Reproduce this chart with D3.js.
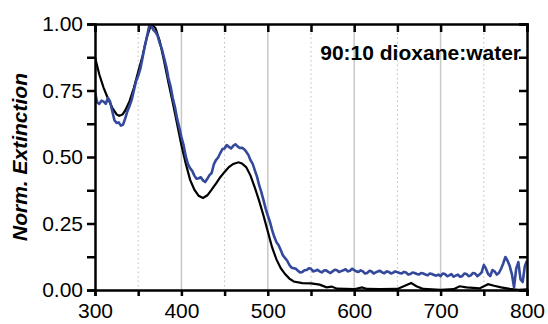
<!DOCTYPE html>
<html>
<head>
<meta charset="utf-8">
<script src="https://cdn.jsdelivr.net/npm/d3@7"></script>
<style>
  body { margin: 0; background: #fff; }
  text { font-family: "Liberation Sans", Arial, sans-serif; }
</style>
</head>
<body>
<div id="chart"></div>
<script>
// black curve (reference) - wavelength / value
const blackWl = [300, 305, 310, 315, 320, 325, 328, 332, 335, 340, 345, 350, 355, 360, 365, 370, 375, 380, 385, 390, 395,
  400, 405, 410, 415, 420, 425, 430, 435, 440, 445, 450, 455, 460, 466, 470, 475, 480, 485, 490, 495,
  500, 505, 510, 515, 520, 525, 530, 540, 550, 560, 568, 574, 580, 590, 600, 609, 615, 630, 650, 660, 666, 672, 680,
  700, 715, 722, 730, 745, 755, 762, 770, 780, 790, 800];
const blackVal = [0.875, 0.81, 0.76, 0.72, 0.685, 0.66, 0.655, 0.66, 0.675, 0.71, 0.76, 0.82, 0.88, 0.95, 1.0, 0.985, 0.935, 0.86, 0.78, 0.705, 0.625,
  0.545, 0.476, 0.415, 0.377, 0.354, 0.346, 0.356, 0.377, 0.4, 0.424, 0.444, 0.462, 0.474, 0.48, 0.476, 0.462, 0.43, 0.385, 0.335, 0.28,
  0.22, 0.16, 0.115, 0.082, 0.06, 0.043, 0.032, 0.026, 0.025, 0.02, 0.01, 0.013, 0.005, 0.004, 0.003, 0.01, 0.004, 0.003, 0.004, 0.018, 0.026, 0.014, 0.004,
  0.001, 0.003, 0.014, 0.01, 0.006, 0.022, 0.016, 0.01, 0.004, 0.001, 0.002];

// blue curve (measured, noisy) - every 2.5 nm from 300 to 800
const blueWl = d3.range(0, 201).map(i => 300 + i * 2.5);
const blueVal = [
  0.745, 0.705, 0.700, 0.712, 0.708, 0.700, 0.722, 0.708, 0.672, 0.638,   // 300-322.5
  0.628, 0.630, 0.618, 0.622, 0.645, 0.672, 0.692, 0.715, 0.750, 0.785,   // 325-347.5
  0.805, 0.832, 0.872, 0.915, 0.950, 0.990, 0.995, 0.978, 0.970, 0.955,   // 350-372.5
  0.927, 0.905, 0.872, 0.840, 0.797, 0.765, 0.722, 0.688, 0.645, 0.612,   // 375-397.5
  0.575, 0.545, 0.503, 0.474, 0.458, 0.448, 0.430, 0.418, 0.420, 0.424,   // 400-422.5
  0.412, 0.406, 0.418, 0.432, 0.440, 0.472, 0.488, 0.498, 0.515, 0.530,   // 425-447.5
  0.532, 0.545, 0.538, 0.532, 0.542, 0.548, 0.540, 0.534, 0.535, 0.530,   // 450-472.5
  0.520, 0.508, 0.488, 0.474, 0.450, 0.426, 0.394, 0.368, 0.338, 0.306,   // 475-497.5
  0.280, 0.256, 0.225, 0.200, 0.180, 0.168, 0.150, 0.130, 0.120, 0.110,   // 500-522.5
  0.094, 0.084, 0.082, 0.080, 0.072, 0.066, 0.068, 0.074, 0.075, 0.082,   // 525-547.5
  0.080, 0.070, 0.072, 0.076, 0.070, 0.066, 0.073, 0.074, 0.068, 0.064,   // 550-572.5
  0.070, 0.076, 0.074, 0.068, 0.071, 0.074, 0.078, 0.070, 0.072, 0.080,   // 575-597.5
  0.075, 0.070, 0.068, 0.074, 0.070, 0.062, 0.064, 0.072, 0.070, 0.062,   // 600-622.5
  0.066, 0.070, 0.072, 0.066, 0.063, 0.070, 0.068, 0.062, 0.065, 0.070,   // 625-647.5
  0.067, 0.064, 0.062, 0.068, 0.066, 0.058, 0.060, 0.066, 0.064, 0.060,   // 650-672.5
  0.058, 0.064, 0.062, 0.058, 0.055, 0.062, 0.060, 0.056, 0.054, 0.058,   // 675-697.5
  0.052, 0.062, 0.060, 0.052, 0.055, 0.060, 0.050, 0.054, 0.058, 0.050,   // 700-722.5
  0.052, 0.062, 0.060, 0.052, 0.055, 0.064, 0.062, 0.052, 0.058, 0.066,   // 725-747.5
  0.094, 0.080, 0.060, 0.052, 0.075, 0.070, 0.058, 0.064, 0.080, 0.100,   // 750-772.5
  0.124, 0.110, 0.090, 0.060, 0.010, 0.080, 0.105, 0.040, 0.030, 0.090,   // 775-797.5
  0.110];                                                                // 800

const xTicks = [300, 400, 500, 600, 700, 800];
const xMinor = [350, 450, 550, 650, 750];
const yTicks = [0, 0.25, 0.5, 0.75, 1.0];
const annotation = "90:10 dioxane:water";

const W = 548, H = 324;
const margin = {top: 24, right: 21, bottom: 34, left: 95};
const width = W - margin.left - margin.right;
const height = H - margin.top - margin.bottom;

const svg = d3.select("#chart").append("svg")
    .attr("width", W)
    .attr("height", H);
const g = svg.append("g")
    .attr("transform", "translate(" + margin.left + "," + margin.top + ")");

const x = d3.scaleLinear().domain([300, 800]).range([0, width]);
const y = d3.scaleLinear().domain([0, 1]).range([height, 0]);

g.append("defs").append("clipPath").attr("id", "clip")
    .append("rect").attr("width", width).attr("height", height);

// grid lines
g.selectAll(".grid-major").data(xTicks.slice(1, -1)).enter().append("line")
    .attr("x1", d => x(d)).attr("x2", d => x(d))
    .attr("y1", 0).attr("y2", height)
    .attr("stroke", "#c8c8c8").attr("stroke-width", 1.5);
g.selectAll(".grid-minor").data(xMinor).enter().append("line")
    .attr("x1", d => x(d)).attr("x2", d => x(d))
    .attr("y1", 0).attr("y2", height)
    .attr("stroke", "#bbbbbb").attr("stroke-width", 1)
    .attr("stroke-dasharray", "1.5,3");

// curves
const line = d3.line().x(d => x(d[0])).y(d => y(d[1]));
g.append("path")
    .datum(blackWl.map((w, i) => [w, blackVal[i]]))
    .attr("clip-path", "url(#clip)")
    .attr("d", line)
    .attr("fill", "none").attr("stroke", "#000").attr("stroke-width", 2.2);
g.append("path")
    .datum(blueWl.map((w, i) => [w, blueVal[i]]))
    .attr("clip-path", "url(#clip)")
    .attr("d", line)
    .attr("fill", "none").attr("stroke", "#34499c").attr("stroke-width", 2.6)
    .attr("stroke-linejoin", "round");

// axes
const allX = xTicks.concat(xMinor).sort((a, b) => a - b);
const allY = d3.range(0, 1.001, 0.125);

const xAxis = d3.axisBottom(x).tickValues(allX).tickSize(6)
    .tickFormat(d => xTicks.includes(d) ? d : "");
const xTop = d3.axisTop(x).tickValues(allX).tickSize(-8).tickFormat("");
const yAxis = d3.axisLeft(y).tickValues(allY).tickSize(8)
    .tickFormat(d => yTicks.some(t => Math.abs(t - d) < 1e-6) ? d3.format(".2f")(d) : "");
const yRight = d3.axisRight(y).tickValues(allY).tickSize(-8).tickFormat("");

function style(sel) {
    sel.select(".domain").attr("stroke", "#000").attr("stroke-width", 2.5);
    sel.selectAll(".tick line").attr("stroke", "#000").attr("stroke-width", 2.5);
    sel.selectAll(".tick text").attr("fill", "#000").style("font-size", "21px");
}

g.append("g").attr("transform", "translate(0," + height + ")").call(xAxis).call(style)
    .selectAll(".tick text").attr("dy", "0.9em");
g.append("g").call(xTop).call(style);
g.append("g").call(yAxis).call(style)
    .selectAll(".tick text").attr("x", -12);
g.append("g").attr("transform", "translate(" + width + ",0)").call(yRight).call(style);

// y label
g.append("text")
    .attr("transform", "translate(-68," + height / 2 + ") rotate(-90)")
    .attr("text-anchor", "middle")
    .style("font-size", "21px").style("font-weight", "bold").style("font-style", "italic")
    .text("Norm. Extinction");

// annotation
g.append("text")
    .attr("x", width - 6).attr("y", 36)
    .attr("text-anchor", "end")
    .style("font-size", "21px").style("font-weight", "bold")
    .text(annotation);
</script>
</body>
</html>
